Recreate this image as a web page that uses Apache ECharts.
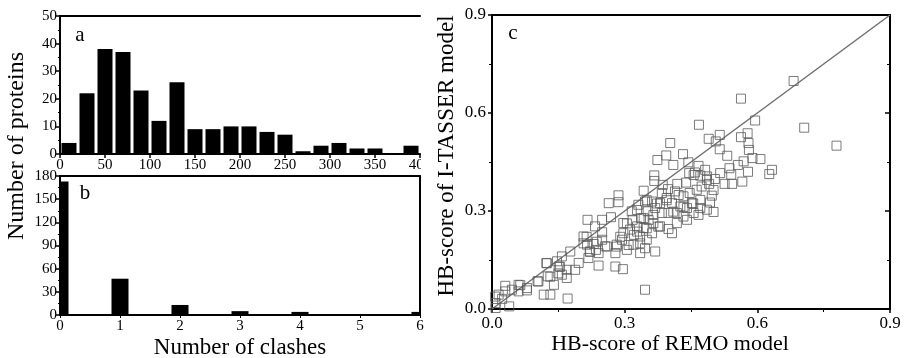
<!DOCTYPE html>
<html><head><meta charset="utf-8">
<script src="https://cdn.jsdelivr.net/npm/echarts@6/dist/echarts.min.js"></script>
<style>html,body{margin:0;padding:0;background:#fff}#c{width:904px;height:358px}</style>
</head><body><div id="c"></div>
<script>
// Panel a: histogram (bin width 20)
const binCentersA = [10,30,50,70,90,110,130,150,170,190,210,230,250,270,290,310,330,350,370,390];
const countsA = [4,22,38,37,23,12,26,9,9,10,10,8,7,1,3,4,2,2,0,3];
const ticksA = [0,50,100,150,200,250,300,350,400];
// Panel b: number of clashes
const clashes = [0,1,2,3,4,5,6];
const countsB = [173,47,13,5,4,0,4];
// Panel c: HB-score scatter
const hbRemo = [0.682,0.563,0.706,0.779,0.595,0.468,0.578,0.563,0.580,0.581,0.515,0.490,0.506,0.403,0.432,0.394,0.515,0.532,0.589,0.607,0.569,0.556,0.374,0.410,0.444,0.467,0.537,0.633,0.627,0.579,0.541,0.566,0.543,0.526,0.516,0.482,0.459,0.367,0.367,0.504,0.486,0.471,0.456,0.446,0.439,0.419,0.414,0.343,0.386,0.398,0.384,0.395,0.433,0.447,0.463,0.474,0.491,0.497,0.493,0.471,0.452,0.441,0.426,0.407,0.380,0.362,0.346,0.331,0.316,0.286,0.286,0.264,0.269,0.318,0.337,0.352,0.369,0.384,0.399,0.418,0.433,0.456,0.471,0.486,0.501,0.467,0.441,0.418,0.399,0.407,0.380,0.365,0.354,0.343,0.328,0.312,0.297,0.297,0.321,0.335,0.350,0.362,0.369,0.346,0.335,0.320,0.305,0.294,0.282,0.279,0.256,0.249,0.249,0.233,0.249,0.216,0.230,0.235,0.241,0.221,0.218,0.207,0.215,0.241,0.279,0.296,0.346,0.177,0.196,0.188,0.169,0.169,0.158,0.151,0.158,0.147,0.123,0.126,0.140,0.117,0.132,0.171,0.103,0.079,0.079,0.060,0.060,0.030,0.030,0.015,0.023,0.008,0.008,0.039,0.045,0.422,0.486,0.501,0.395,0.373,0.350,0.328,0.343,0.365,0.410,0.433,0.455,0.305,0.328,0.350,0.376,0.290,0.309,0.335,0.282,0.260,0.237,0.222,0.214,0.207,0.154,0.150,0.132,0.124,0.105,0.064,0.007];
const hbItasser = [0.698,0.644,0.555,0.500,0.577,0.564,0.538,0.526,0.508,0.487,0.533,0.521,0.513,0.508,0.474,0.470,0.489,0.469,0.462,0.459,0.452,0.441,0.456,0.441,0.449,0.438,0.431,0.426,0.413,0.420,0.411,0.390,0.383,0.383,0.416,0.426,0.418,0.409,0.392,0.398,0.406,0.408,0.410,0.416,0.387,0.383,0.360,0.362,0.380,0.367,0.355,0.340,0.345,0.355,0.365,0.375,0.383,0.347,0.326,0.334,0.324,0.309,0.314,0.324,0.324,0.329,0.329,0.319,0.299,0.348,0.327,0.324,0.281,0.273,0.278,0.299,0.309,0.294,0.294,0.294,0.283,0.294,0.309,0.304,0.297,0.288,0.273,0.263,0.245,0.232,0.253,0.263,0.273,0.248,0.253,0.243,0.263,0.232,0.227,0.222,0.212,0.232,0.176,0.186,0.171,0.197,0.181,0.212,0.197,0.171,0.192,0.212,0.235,0.253,0.273,0.273,0.199,0.181,0.171,0.176,0.156,0.222,0.197,0.133,0.130,0.122,0.059,0.176,0.141,0.120,0.120,0.095,0.105,0.130,0.161,0.146,0.141,0.100,0.074,0.044,0.044,0.032,0.085,0.064,0.057,0.074,0.054,0.071,0.054,0.044,0.031,0.018,0.003,0.008,0.059,0.349,0.395,0.364,0.333,0.323,0.333,0.303,0.278,0.288,0.298,0.313,0.323,0.262,0.237,0.247,0.252,0.221,0.196,0.201,0.191,0.191,0.206,0.175,0.221,0.201,0.129,0.109,0.099,0.140,0.084,0.073,0.038];
const ticksC = [0.0,0.3,0.6,0.9];

const FONT = '"Liberation Serif", serif';
const lab = {color:'#000', fontFamily:FONT, fontSize:15};
const labC = {color:'#000', fontFamily:FONT, fontSize:17};
function mainX(grid, min, max, interval, extra){
  return Object.assign({type:'value', gridIndex:grid, min, max, interval,
    axisLine:{show:true, onZero:false, lineStyle:{color:'#000', width:2}},
    axisTick:{show:true, length:4, lineStyle:{color:'#000', width:1.5}},
    axisLabel:Object.assign({margin:5}, lab),
    splitLine:{show:false}}, extra||{});
}
function borderAxis(grid, pos, isX, min, max, extra){
  return Object.assign({type:'value', gridIndex:grid, position:pos, min, max,
    axisLine:{show:true, onZero:false, lineStyle:{color:'#000', width:2}},
    axisTick:{show:false}, axisLabel:{show:false}, splitLine:{show:false}}, extra||{});
}
function clippedBar(width){
  return function(params, api){
    const x = api.value(0), y = api.value(1);
    const top = api.coord([x, y]);
    const base = api.coord([x, 0]);
    const cs = params.coordSys;
    const r = echarts.graphic.clipRectByRect(
      {x: top[0] - width/2, y: top[1], width: width, height: base[1] - top[1]},
      {x: cs.x, y: cs.y, width: cs.width, height: cs.height});
    if (!r || r.height <= 0) return null;
    return {type:'rect', shape:r, style:{fill:'#000'}};
  };
}
const chart = echarts.init(document.getElementById('c'), null, {renderer:'canvas'});
chart.setOption({
  animation:false,
  backgroundColor:'#fff',
  textStyle:{fontFamily:FONT},
  grid:[
    {left:60, top:16, width:360, height:138},
    {left:60, top:176, width:360, height:139},
    {left:492, top:15, width:398, height:294}
  ],
  xAxis:[
    mainX(0, 0, 400, 50, {axisLabel:Object.assign({margin:4}, lab)}),
    borderAxis(0, 'top', true, 0, 400),
    mainX(1, 0, 6, 1, {axisTick:{show:true,length:3,lineStyle:{color:'#000'}}, axisLabel:Object.assign({margin:4}, lab)}),
    borderAxis(1, 'top', true, 0, 6),
    mainX(2, 0, 0.9, 0.3, {axisLabel:Object.assign({margin:6, formatter:v=>v.toFixed(1)}, labC),
      minorTick:{show:true, splitNumber:2, length:3, lineStyle:{color:'#000'}}}),
    borderAxis(2, 'top', true, 0, 0.9)
  ],
  yAxis:[
    mainX(0, 0, 50, 10, {minorTick:{show:true, splitNumber:2, length:2, lineStyle:{color:'#000'}}, axisLabel:Object.assign({margin:3}, lab)}),
    mainX(1, 0, 180, 30, {minorTick:{show:true, splitNumber:2, length:2, lineStyle:{color:'#000'}}, axisLabel:Object.assign({margin:3}, lab)}),
    borderAxis(1, 'right', false, 0, 180),
    mainX(2, 0, 0.9, 0.3, {axisLabel:Object.assign({margin:6, formatter:v=>v.toFixed(1)}, labC),
      minorTick:{show:true, splitNumber:2, length:3, lineStyle:{color:'#000'}}}),
    borderAxis(2, 'right', false, 0, 0.9, {interval:0.3,
      axisTick:{show:true, inside:true, length:5, lineStyle:{color:'#000', width:1.5}},
      minorTick:{show:true, splitNumber:2, length:3, lineStyle:{color:'#000'}}})
  ],
  series:[
    {type:'custom', xAxisIndex:0, yAxisIndex:0, renderItem:clippedBar(15),
      data:binCentersA.map((c,i)=>[c, countsA[i]])},
    {type:'custom', xAxisIndex:2, yAxisIndex:1, renderItem:clippedBar(17),
      data:clashes.map((c,i)=>[c, countsB[i]])},
    {type:'line', xAxisIndex:4, yAxisIndex:3, symbol:'none', lineStyle:{color:'#707070', width:1.5},
      data:[[ticksC[0],ticksC[0]],[ticksC[3],ticksC[3]]], z:1},
    {type:'scatter', xAxisIndex:4, yAxisIndex:3, symbol:'rect', symbolSize:9, z:2,
      itemStyle:{color:'rgba(255,255,255,0)', borderColor:'#5a5a5a', borderWidth:1},
      data:hbRemo.map((x,i)=>[x, hbItasser[i]])}
  ],
  graphic:[
    {type:'rect', z:100, shape:{x:421, y:156, width:12, height:19}, style:{fill:'#fff'}},
    {type:'text', z:101, x:17, y:146, rotation:Math.PI/2, style:{text:'Number of proteins', font:'24px "Liberation Serif"', fill:'#000', align:'center', verticalAlign:'middle'}},
    {type:'text', z:101, x:240, y:348, style:{text:'Number of clashes', font:'23px "Liberation Serif"', fill:'#000', align:'center', verticalAlign:'middle'}},
    {type:'text', z:101, x:670, y:344, style:{text:'HB-score of REMO model', font:'22px "Liberation Serif"', fill:'#000', align:'center', verticalAlign:'middle'}},
    {type:'text', z:101, x:447, y:156, rotation:Math.PI/2, style:{text:'HB-score of I-TASSER model', font:'23px "Liberation Serif"', fill:'#000', align:'center', verticalAlign:'middle'}},
    {type:'text', z:101, x:80, y:35, style:{text:'a', font:'21px "Liberation Serif"', fill:'#000', align:'center', verticalAlign:'middle'}},
    {type:'text', z:101, x:85, y:193, style:{text:'b', font:'21px "Liberation Serif"', fill:'#000', align:'center', verticalAlign:'middle'}},
    {type:'text', z:101, x:513, y:33, style:{text:'c', font:'21px "Liberation Serif"', fill:'#000', align:'center', verticalAlign:'middle'}}
  ]
});
</script></body></html>
